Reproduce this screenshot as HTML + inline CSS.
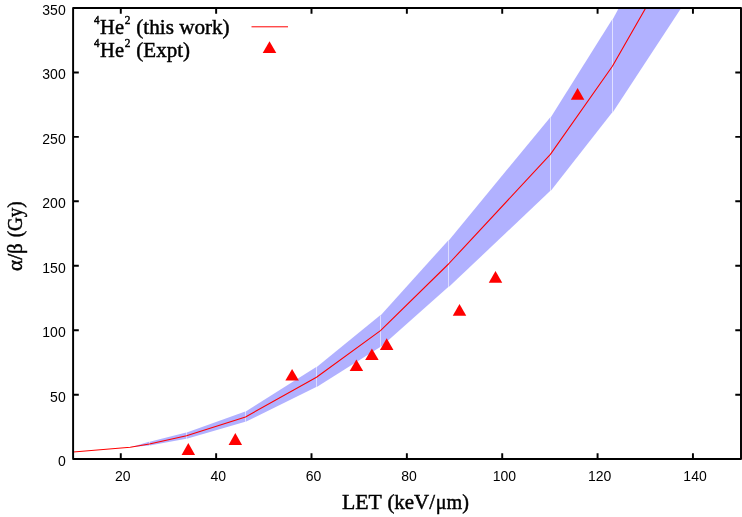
<!DOCTYPE html>
<html><head><meta charset="utf-8"><title>plot</title>
<style>
html,body{margin:0;padding:0;background:#fff;}
body{width:742px;height:517px;overflow:hidden;}
svg{display:block;will-change:transform;}
.t{font-family:"Liberation Sans",sans-serif;font-size:14px;fill:#000;}
.s{font-family:"Liberation Serif",serif;fill:#000;}
</style></head><body>
<svg width="742" height="517" viewBox="0 0 742 517">
<rect x="0" y="0" width="742" height="517" fill="#fff"/>
<defs><clipPath id="c"><rect x="73.1" y="8.0" width="667.9" height="451.0"/></clipPath></defs>

<g clip-path="url(#c)">
<polygon points="130.47,447.20 149.13,441.80 149.13,445.60 130.47,447.20" fill="#b1b1ff"/>
<polygon points="149.67,441.80 186.23,432.60 186.23,438.70 149.67,445.60" fill="#b1b1ff"/>
<polygon points="186.77,432.60 245.23,411.50 245.23,421.70 186.77,438.70" fill="#b1b1ff"/>
<polygon points="245.77,411.50 316.23,367.00 316.23,387.00 245.77,421.70" fill="#b1b1ff"/>
<polygon points="316.77,367.00 380.23,315.20 380.23,346.90 316.77,387.00" fill="#b1b1ff"/>
<polygon points="380.77,315.20 448.23,240.40 448.23,287.00 380.77,346.90" fill="#b1b1ff"/>
<polygon points="448.77,240.40 550.13,117.40 550.13,191.10 448.77,287.00" fill="#b1b1ff"/>
<polygon points="550.67,117.40 612.13,19.60 612.13,112.60 550.67,191.10" fill="#b1b1ff"/>
<polygon points="612.67,19.60 621.85,2.20 715.45,-44.30 612.67,112.60" fill="#b1b1ff"/>
<polyline points="73.30,452.00 130.20,447.20 149.40,444.00 186.50,435.80 245.50,417.00 316.50,377.20 380.50,330.60 448.50,264.00 550.40,154.40 612.40,66.20 655.69,-9.46" fill="none" stroke="#ff0000" stroke-width="1.08" stroke-linejoin="round"/>
</g>
<polygon points="188.30,443.00 195.05,454.90 181.55,454.90" fill="#ff0000"/>
<polygon points="235.30,433.10 242.05,444.90 228.55,444.90" fill="#ff0000"/>
<polygon points="292.10,368.90 298.85,380.60 285.35,380.60" fill="#ff0000"/>
<polygon points="356.40,359.50 363.15,371.10 349.65,371.10" fill="#ff0000"/>
<polygon points="371.90,348.40 378.65,360.00 365.15,360.00" fill="#ff0000"/>
<polygon points="386.70,338.30 393.45,349.90 379.95,349.90" fill="#ff0000"/>
<polygon points="459.50,304.00 466.25,315.80 452.75,315.80" fill="#ff0000"/>
<polygon points="495.50,271.10 502.25,282.80 488.75,282.80" fill="#ff0000"/>
<polygon points="577.60,88.10 584.35,99.80 570.85,99.80" fill="#ff0000"/>
<line x1="251.5" y1="26.8" x2="288" y2="26.8" stroke="#ff0000" stroke-width="1.0"/>
<polygon points="269.5,41.2 276.3,53.1 262.7,53.1" fill="#ff0000"/>
<path d="M120.78,459.00V453.30M120.78,8.00V13.70M216.14,459.00V453.30M216.14,8.00V13.70M311.50,459.00V453.30M311.50,8.00V13.70M406.86,459.00V453.30M406.86,8.00V13.70M502.22,459.00V453.30M502.22,8.00V13.70M597.58,459.00V453.30M597.58,8.00V13.70M692.94,459.00V453.30M692.94,8.00V13.70M73.10,394.65H78.80M741.00,394.65H735.30M73.10,330.20H78.80M741.00,330.20H735.30M73.10,265.75H78.80M741.00,265.75H735.30M73.10,201.30H78.80M741.00,201.30H735.30M73.10,136.85H78.80M741.00,136.85H735.30M73.10,72.40H78.80M741.00,72.40H735.30" stroke="#000" stroke-width="1.95" fill="none"/>
<rect x="73.10" y="8.00" width="667.90" height="451.00" fill="none" stroke="#000" stroke-width="1.95" stroke-linejoin="round"/>
<text class="t" x="122.88" y="480.9" text-anchor="middle">20</text>
<text class="t" x="218.24" y="480.9" text-anchor="middle">40</text>
<text class="t" x="313.60" y="480.9" text-anchor="middle">60</text>
<text class="t" x="408.96" y="480.9" text-anchor="middle">80</text>
<text class="t" x="504.32" y="480.9" text-anchor="middle">100</text>
<text class="t" x="599.68" y="480.9" text-anchor="middle">120</text>
<text class="t" x="695.04" y="480.9" text-anchor="middle">140</text>
<text class="t" x="65.7" y="466.10" text-anchor="end">0</text>
<text class="t" x="65.7" y="401.65" text-anchor="end">50</text>
<text class="t" x="65.7" y="337.20" text-anchor="end">100</text>
<text class="t" x="65.7" y="272.75" text-anchor="end">150</text>
<text class="t" x="65.7" y="208.30" text-anchor="end">200</text>
<text class="t" x="65.7" y="143.85" text-anchor="end">250</text>
<text class="t" x="65.7" y="79.40" text-anchor="end">300</text>
<text class="t" x="65.7" y="14.95" text-anchor="end">350</text>
<text class="s" font-size="20.7" x="341.90" y="509.40" textLength="39.90" lengthAdjust="spacingAndGlyphs" stroke="#000" stroke-width="0.45">LET</text>
<text class="s" font-size="20.7" x="387.40" y="509.40" textLength="47.60" lengthAdjust="spacingAndGlyphs" stroke="#000" stroke-width="0.45">(keV/</text>
<text class="s" font-size="20.7" x="435.80" y="509.40" textLength="33.20" lengthAdjust="spacingAndGlyphs" stroke="#000" stroke-width="0.45">μm)</text>
<g transform="translate(22.4,270.9) rotate(-90)"><text class="s" font-size="20.7" x="0.00" y="0.00" textLength="27.80" lengthAdjust="spacingAndGlyphs" stroke="#000" stroke-width="0.45">α/β</text><text class="s" font-size="20.7" x="33.60" y="0.00" textLength="36.00" lengthAdjust="spacingAndGlyphs" stroke="#000" stroke-width="0.45">(Gy)</text></g>
<text class="s" font-size="11.5" x="93.90" y="24.30" textLength="5.50" lengthAdjust="spacingAndGlyphs" stroke="#000" stroke-width="0.45">4</text>
<text class="s" font-size="20.7" x="100.10" y="33.80" textLength="23.90" lengthAdjust="spacingAndGlyphs" stroke="#000" stroke-width="0.45">He</text>
<text class="s" font-size="11.5" x="124.70" y="23.90" textLength="5.70" lengthAdjust="spacingAndGlyphs" stroke="#000" stroke-width="0.45">2</text>
<text class="s" font-size="20.7" x="136.30" y="33.80" textLength="93.30" lengthAdjust="spacingAndGlyphs" stroke="#000" stroke-width="0.45">(this work)</text>
<text class="s" font-size="11.5" x="93.90" y="47.30" textLength="5.50" lengthAdjust="spacingAndGlyphs" stroke="#000" stroke-width="0.45">4</text>
<text class="s" font-size="20.7" x="100.10" y="56.80" textLength="23.90" lengthAdjust="spacingAndGlyphs" stroke="#000" stroke-width="0.45">He</text>
<text class="s" font-size="11.5" x="124.70" y="46.90" textLength="5.70" lengthAdjust="spacingAndGlyphs" stroke="#000" stroke-width="0.45">2</text>
<text class="s" font-size="20.7" x="136.30" y="56.80" textLength="53.70" lengthAdjust="spacingAndGlyphs" stroke="#000" stroke-width="0.45">(Expt)</text>
</svg></body></html>
